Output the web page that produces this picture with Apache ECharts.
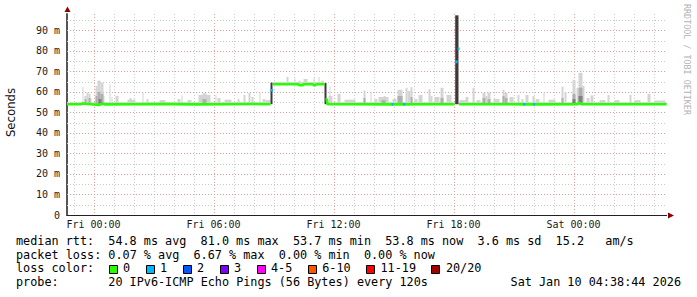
<!DOCTYPE html>
<html><head><meta charset="utf-8">
<script src="https://cdn.jsdelivr.net/npm/echarts@6/dist/echarts.min.js"></script>
<style>html,body{margin:0;padding:0;background:#fff}#c{width:697px;height:297px}</style>
</head><body><div id="c"></div>
<script>
// ---- data (x in hours relative to Fri 00:00, y in ms) ----
const xStart = -1.325, xEnd = 28.655;
const xTickHours = [0, 6, 12, 18, 24];
const xTickLabels = ['Fri 00:00', 'Fri 06:00', 'Fri 12:00', 'Fri 18:00', 'Sat 00:00'];
const vGridHours = [-1,0,1,2,3,4,5,6,7,8,9,10,11,12,13,14,15,16,17,18,19,20,21,22,23,24,25,26,27,28];
const yMax = 98;
const yTicks = [0,10,20,30,40,50,60,70,80,90];
const hGridMs = [5,10,15,20,25,30,35,40,45,50,55,60,65,70,75,80,85,90,95];

// median rtt (loss 0 colour); [h, null] breaks the line
const medianLine = [
 [-1.325,54.0],[-0.6,54.0],[-0.55,54.3],[-0.1,54.0],[0.25,53.6],[0.45,54.2],[0.6,53.9],[2.0,54.0],[3.5,54.1],[5.0,53.9],[6.5,54.0],[8.0,54.1],[8.85,54.0],[8.9,null],
 [8.97,63.7],[10.25,63.7],[10.3,63.2],[10.45,63.2],[10.5,63.7],[10.95,63.7],[11.0,63.3],[11.1,63.3],[11.15,63.7],[11.55,63.7],[11.58,null],
 [11.6,56.4],[11.66,56.4],[11.7,54.0],[13.0,54.0],[15.0,53.9],[17.0,54.0],[18.05,54.0],[18.1,null],
 [18.27,54.0],[20.0,54.0],[22.0,53.9],[24.2,54.0],[24.3,54.6],[24.4,54.0],[26.0,54.0],[28.655,54.0]
];
// median segments with packet loss: [startHour, endHour, ms, lossIndex]
const lossSegs = [
 [8.85,8.97,60.8,1],[14.9,15.0,54.0,1],[15.48,15.6,54.0,1],
 [18.08,18.21,74.6,1],[18.2,18.3,81.0,1],[21.48,21.6,54.0,1],[21.98,22.08,54.0,1]
];
// smoke: [startHour, endHour, lowMs, highMs]
const smokeLight = [
 [-1.325,8.85,54,55.0],[8.95,11.55,63.5,64.8],[11.65,28.655,54,55.0],
 [-0.55,-0.5,54,62.4],[-0.45,-0.35,54,58],[-0.35,-0.25,54,59.7],[-0.25,-0.15,54,59],[-0.15,-0.1,54,57],
 [0.1,0.2,54,63],[0.2,0.35,54,65.5],[0.35,0.5,54,64.5],[0.5,0.55,54,58],[0.8,0.85,54,63.7],[0.9,0.95,54,57.5],
 [1.1,1.25,54,58],[1.7,2.1,54,56.2],[1.8,1.9,54,57],[2.45,2.5,54,59.7],[2.65,2.75,54,56.5],[3.3,3.6,54,56],
 [4.2,4.35,54,56.5],[4.4,4.45,54,58.3],[4.7,4.9,54,56],[5.25,5.85,54,58.5],[5.45,5.65,54,59.3],[6.1,6.15,54,58.3],
 [6.2,6.35,54,57],[6.55,6.9,54,56.2],[7.2,7.3,54,56.5],[7.5,7.6,54,58.5],[7.75,7.85,54,59.5],[7.9,8.0,54,57.5],
 [8.3,8.35,54,60],[8.45,8.6,54,56.5],[8.6,8.85,54,56],
 [9.65,9.75,63.5,67.3],[10.05,10.1,63.5,66.5],[10.25,10.35,63.5,65.5],[10.5,10.7,63.5,66.3],[11.0,11.05,63.5,67],
 [11.25,11.3,63.5,67.2],[11.4,11.5,63.5,65.5],
 [11.75,11.95,54,58],[11.8,11.85,54,62.7],[12.2,12.35,54,59],[12.55,13.1,54,56.2],[13.5,13.6,54,60.7],[13.85,13.9,54,60],
 [14.05,14.2,54,56.5],[14.25,14.75,54,57.5],[14.5,14.6,54,58],[14.95,15.15,54,56.5],[15.2,15.45,54,61],[15.6,15.7,54,62],
 [15.7,15.85,54,60.5],[15.85,15.95,54,62.3],[16.05,16.2,54,56.5],[16.25,16.45,54,58.5],[16.75,16.85,54,61.3],[16.85,16.95,54,58],
 [17.05,17.3,54,57.5],[17.35,17.5,54,62],[17.65,17.9,54,58.5],[18.3,18.65,54,56],[18.6,18.75,54,57.5],[18.95,19.05,54,62],
 [19.15,19.35,54,56],[19.45,19.6,54,59.5],[19.6,19.7,54,58],[19.7,19.85,54,59.7],[20.0,20.3,54,56.5],[20.45,20.55,54,61],
 [20.55,20.7,54,59.5],[20.8,21.0,54,57.5],[21.2,21.3,54,58.5],[21.4,21.5,54,56.5],[21.6,21.75,54,58.5],[21.95,22.05,54,58],
 [22.1,22.3,54,56.5],[22.5,22.55,54,59.7],[22.75,23.1,54,56.2],[23.4,23.5,54,62.5],[23.55,23.65,54,59.7],[23.95,24.1,54,65.7],
 [24.15,24.25,54,62],[24.25,24.45,54,69.3],[24.45,24.55,54,63],[24.65,24.8,54,57],[24.85,25.0,54,58.3],[25.3,25.6,54,56],
 [25.7,25.8,54,58.5],[26.05,26.3,54,56],[26.8,26.9,54,58.5],[27.05,27.35,54,56],[27.7,27.85,54,59],[28.05,28.6,54,55.8]
];
const smokeMid = [
 [-0.45,-0.35,54,56.5],[-0.25,-0.15,54,57],[0.1,0.2,54,58],[0.2,0.35,54,60],[0.35,0.5,54,59],[5.45,5.65,54,56.5],
 [13.5,13.6,54,57],[14.4,14.6,54,56],[15.2,15.45,54,58],[15.85,15.95,54,57.5],[17.35,17.5,54,57],[19.45,19.6,54,57],
 [19.7,19.85,54,56.5],[20.45,20.55,54,58],[20.55,20.7,54,57],[23.4,23.5,54,57],[23.95,24.1,54,59],[24.25,24.45,54,62]
];
const smokeDark = [
 [0.25,0.4,54,56.5],[23.95,24.1,54,56.5],[24.25,24.45,54,58]
];
const smokeBlack = [
 [8.85,8.95,54,64.5],[11.55,11.65,54,64.3],[18.085,18.25,54,97.3]
];

const lossLabels = ['0','1','2','3','4-5','6-10','11-19','20/20'];
const lossColors = ['#26ff00','#00b8ff','#0059ff','#7e00ff','#ff00ff','#ff5500','#ff0000','#a10000'];

const legendLine1 = 'median rtt:  54.8 ms avg  81.0 ms max  53.7 ms min  53.8 ms now  3.6 ms sd  15.2   am/s';
const legendLine2 = 'packet loss: 0.07 % avg  6.67 % max  0.00 % min  0.00 % now';
const legendLine3 = 'loss color:';
const legendLine4 = 'probe:       20 IPv6-ICMP Echo Pings (56 Bytes) every 120s';
const dateText = 'Sat Jan 10 04:38:44 2026';
const yTitle = 'Seconds';
const watermark = 'RRDTOOL / TOBI OETIKER';

// ---- chart ----
const chart = echarts.init(document.getElementById('c'), null, {renderer: 'svg'});
const mono = '"DejaVu Sans Mono", monospace';

function rectSeries(data, color, z) {
  return {
    type: 'custom', data, z, silent: true, clip: false,
    encode: {x: [0, 1], y: [2, 3]},
    renderItem(params, api) {
      const a = api.coord([api.value(0), api.value(3)]);
      const b = api.coord([api.value(1), api.value(2)]);
      return {type: 'rect', shape: {x: a[0], y: a[1], width: Math.max(b[0] - a[0], 1), height: b[1] - a[1]},
        style: {fill: color}};
    }
  };
}
const vGridSeries = {
  type: 'custom', z: 1, silent: true, clip: false,
  data: vGridHours.map(h => [h, 0]), encode: {x: 0, y: 1},
  renderItem(params, api) {
    const h = api.value(0);
    const t = api.coord([h, yMax]), b = api.coord([h, 0]);
    const x = Math.round(t[0]) + 0.5;
    const major = xTickHours.indexOf(h) >= 0;
    return {type: 'line', shape: {x1: x, y1: t[1], x2: x, y2: b[1]},
      style: {stroke: major ? '#e39c9c' : '#c9c9c9', lineWidth: 1, lineDash: [1, 2]}};
  }
};
const hGridSeries = {
  type: 'custom', z: 1, silent: true, clip: false,
  data: hGridMs.map(v => [xStart, v]), encode: {x: 0, y: 1},
  renderItem(params, api) {
    const v = api.value(1);
    const l = api.coord([xStart, v]), r = api.coord([xEnd, v]);
    const y = Math.round(l[1]) + 0.5;
    const major = v % 10 === 0;
    return {type: 'line', shape: {x1: l[0], y1: y, x2: r[0], y2: y},
      style: {stroke: major ? '#e39c9c' : '#c9c9c9', lineWidth: 1, lineDash: [1, 2]}};
  }
};
const lossSeries = [];
[...new Set(lossSegs.map(s => s[3]))].forEach(li => {
  const d = [];
  lossSegs.filter(s => s[3] === li).forEach(s => { d.push([s[0], s[2]], [s[1], s[2]], [s[1], null]); });
  lossSeries.push({type: 'line', data: d, z: 7, symbol: 'none', silent: true, connectNulls: false,
    lineStyle: {color: lossColors[li], width: 2.6}});
});

// legend / text graphics
const charW = 7.1, textX = 16, legFont = '11.8px ' + mono;
const lineY = [240.8, 254.5, 268.2, 281.9];
function runs(str, y) {
  const out = []; const re = /\S+(?: \S+)*/g; let m;
  while ((m = re.exec(str))) out.push({type: 'text', x: textX + m.index * charW, y,
    style: {text: m[0], font: legFont, fill: '#000', align: 'left', verticalAlign: 'middle'}});
  return out;
}
const graphics = [];
graphics.push(...runs(legendLine1, lineY[0]), ...runs(legendLine2, lineY[1]), ...runs(legendLine3, lineY[2]), ...runs(legendLine4, lineY[3]));
let bx = 108.5;
lossLabels.forEach((lab, i) => {
  graphics.push({type: 'rect', shape: {x: Math.round(bx) + 0.5, y: 265.5, width: 8, height: 8},
    style: {fill: lossColors[i], stroke: '#000', lineWidth: 1}});
  graphics.push({type: 'text', x: bx + 14.5, y: lineY[2],
    style: {text: lab, font: legFont, fill: '#000', align: 'left', verticalAlign: 'middle'}});
  bx += 37 + (lab.length - 1) * charW;
});
graphics.push({type: 'text', x: 681, y: lineY[3], style: {text: dateText, font: legFont, fill: '#000', align: 'right', verticalAlign: 'middle'}});
graphics.push({type: 'text', x: 10.5, y: 112.5, rotation: Math.PI / 2,
  style: {text: yTitle, font: '11.7px "DejaVu Sans", sans-serif', fill: '#111', align: 'center', verticalAlign: 'middle'}});
graphics.push({type: 'text', x: 687, y: 4, rotation: -Math.PI / 2,
  style: {text: watermark, font: '8.4px ' + mono, fill: '#b4b4b4', align: 'left', verticalAlign: 'middle'}});
// axis arrows
graphics.push({type: 'polygon', shape: {points: [[64.5, 12], [67.5, 6.5], [70.5, 12]]}, style: {fill: '#8b0000'}});
graphics.push({type: 'polygon', shape: {points: [[668, 212.5], [674, 215.5], [668, 218.5]]}, style: {fill: '#8b0000'}});

chart.setOption({
  animation: false,
  backgroundColor: '#ffffff',
  grid: {left: 67, right: 30.4, top: 13.9, bottom: 82, containLabel: false},
  xAxis: {
    type: 'value', min: xStart, max: xEnd,
    axisLine: {show: true, onZero: false, lineStyle: {color: '#222', width: 1}},
    axisTick: {show: false},
    splitLine: {show: false},
    axisLabel: {customValues: xTickHours, margin: 4, fontFamily: mono, fontSize: 10, color: '#1a1a1a',
      formatter: v => xTickLabels[xTickHours.indexOf(Math.round(v))] || ''}
  },
  yAxis: {
    type: 'value', min: 0, max: yMax, interval: 10,
    axisLine: {show: true, onZero: false, lineStyle: {color: '#555', width: 2}},
    axisTick: {show: false},
    splitLine: {show: false},
    axisLabel: {showMaxLabel: false, margin: 7, fontFamily: mono, fontSize: 10, color: '#1a1a1a',
      formatter: v => (v === 0 ? '0' : v + ' m')}
  },
  graphic: graphics,
  series: [
    vGridSeries, hGridSeries,
    rectSeries(smokeLight, '#d4d4d4', 2),
    rectSeries(smokeMid, '#afafaf', 3),
    rectSeries(smokeDark, '#808080', 4),
    rectSeries(smokeBlack, '#3a3a3a', 5),
    {type: 'line', data: medianLine, z: 6, symbol: 'none', silent: true, connectNulls: false,
      lineStyle: {color: '#26ff00', width: 2.6}},
    ...lossSeries
  ]
});
</script>
</body></html>
